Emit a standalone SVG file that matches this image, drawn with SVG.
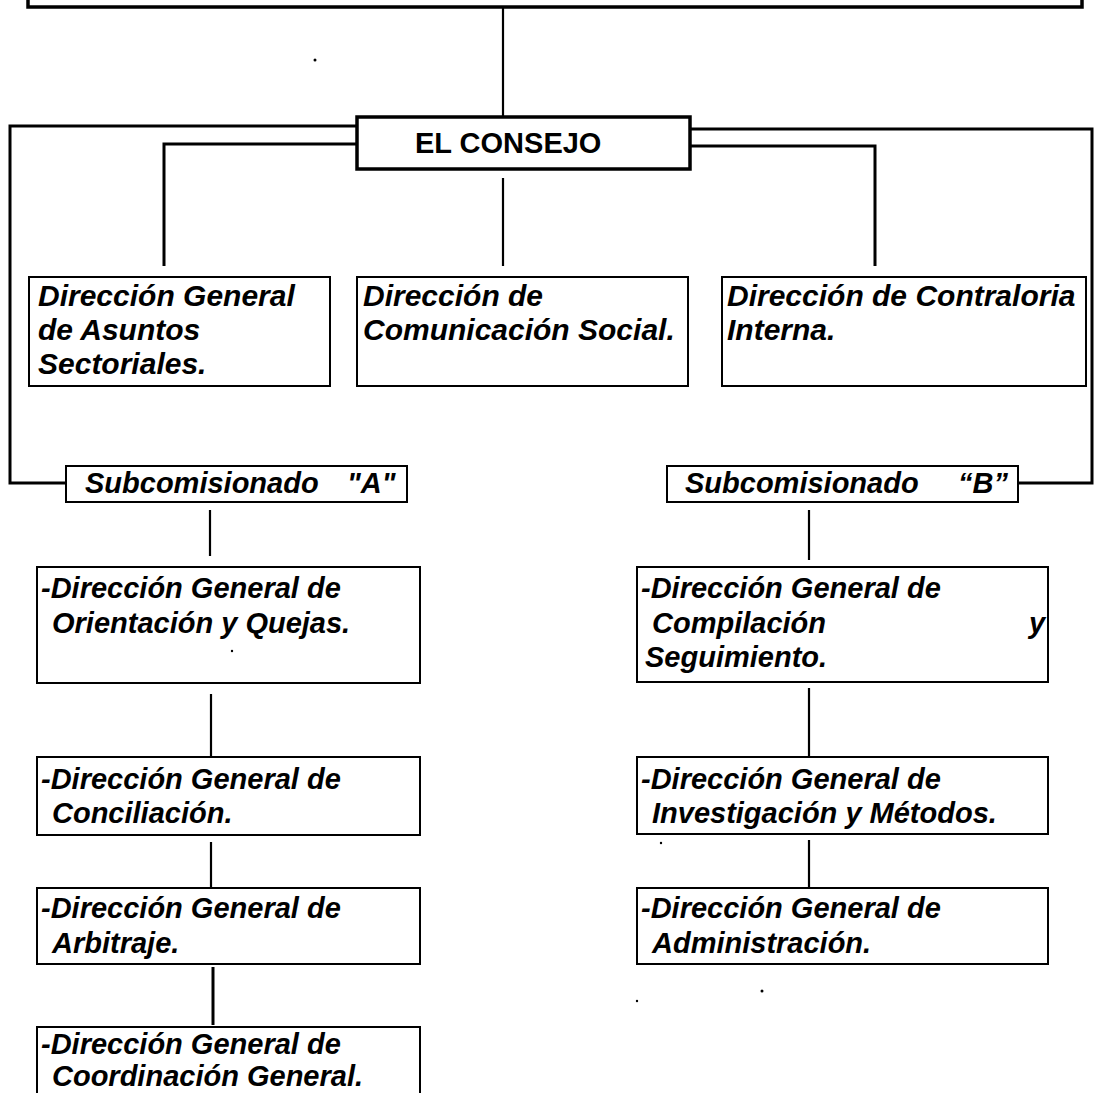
<svg xmlns="http://www.w3.org/2000/svg" width="1095" height="1093" viewBox="0 0 1095 1093">
<style>
.box{fill:#fff;stroke:#000;stroke-width:2}
.bold{stroke-width:3.5}
.t{font-family:"Liberation Sans",Arial,sans-serif;font-weight:bold;font-style:italic;font-size:29px;fill:#000}
.t30{font-size:30px}
.up{font-style:normal}
.c{fill:none;stroke:#000;stroke-width:3}
.c2{fill:none;stroke:#000;stroke-width:2.2}
</style>
<rect width="1095" height="1093" fill="#fff"/>
<g id="connectors">
<path class="c2" d="M503,7 V117"/>
<path class="c" d="M357,126 H10 V483 H66"/>
<path class="c" d="M357,144 H164 V266"/>
<path class="c2" d="M503,178 V266"/>
<path class="c" d="M690,129 H1092 V483 H1018"/>
<path class="c" d="M690,146 H875 V266"/>
<path class="c2" d="M210,510 V556"/>
<path class="c2" d="M211,694 V757"/>
<path class="c2" d="M211,842 V887"/>
<path class="c" d="M213,967 V1025"/>
<path class="c2" d="M809,510 V560"/>
<path class="c2" d="M809,688 V756"/>
<path class="c2" d="M809,840 V887"/>
</g>
<g id="top"><rect class="box bold" x="28" y="-40" width="1054" height="47"/></g>
<g id="consejo">
<rect class="box bold" x="357" y="117" width="333" height="52"/>
<text class="t up" x="415" y="153">EL CONSEJO</text>
</g>
<g id="asuntos">
<rect class="box" x="29" y="277" width="301" height="109"/>
<text class="t t30" x="38" y="306">Dirección General</text>
<text class="t t30" x="38" y="340">de Asuntos</text>
<text class="t t30" x="38" y="374">Sectoriales.</text>
</g>
<g id="comunicacion">
<rect class="box" x="357" y="277" width="331" height="109"/>
<text class="t t30" x="363" y="306">Dirección de</text>
<text class="t t30" x="363" y="340">Comunicación Social.</text>
</g>
<g id="contraloria">
<rect class="box" x="722" y="277" width="364" height="109"/>
<text class="t t30" x="727" y="306">Dirección de Contraloria</text>
<text class="t t30" x="727" y="340">Interna.</text>
</g>
<g id="subA">
<rect class="box" x="66" y="466" width="341" height="36"/>
<text class="t" x="85" y="493">Subcomisionado<tspan x="347">"A"</tspan></text>
</g>
<g id="subB">
<rect class="box" x="667" y="466" width="351" height="36"/>
<text class="t" x="685" y="493">Subcomisionado<tspan x="958">“B”</tspan></text>
</g>
<g id="a1">
<rect class="box" x="37" y="567" width="383" height="116"/>
<text class="t" x="41" y="598">-Dirección General de</text>
<text class="t" x="52" y="633">Orientación y Quejas.</text>
</g>
<g id="a2">
<rect class="box" x="37" y="757" width="383" height="78"/>
<text class="t" x="41" y="789">-Dirección General de</text>
<text class="t" x="52" y="823">Conciliación.</text>
</g>
<g id="a3">
<rect class="box" x="37" y="888" width="383" height="76"/>
<text class="t" x="41" y="918">-Dirección General de</text>
<text class="t" x="52" y="953">Arbitraje.</text>
</g>
<g id="a4">
<rect class="box" x="37" y="1027" width="383" height="100"/>
<text class="t" x="41" y="1054">-Dirección General de</text>
<text class="t" x="52" y="1086">Coordinación General.</text>
</g>
<g id="b1">
<rect class="box" x="637" y="567" width="411" height="115"/>
<text class="t" x="641" y="598">-Dirección General de</text>
<text class="t" x="652" y="633">Compilación<tspan x="1029">y</tspan></text>
<text class="t" x="645" y="667">Seguimiento.</text>
</g>
<g id="b2">
<rect class="box" x="637" y="757" width="411" height="77"/>
<text class="t" x="641" y="789">-Dirección General de</text>
<text class="t" x="652" y="823">Investigación y Métodos.</text>
</g>
<g id="b3">
<rect class="box" x="637" y="888" width="411" height="76"/>
<text class="t" x="641" y="918">-Dirección General de</text>
<text class="t" x="652" y="953">Administración.</text>
</g>
<g id="specks" fill="#000">
<circle cx="315" cy="60" r="1.5"/>
<circle cx="232" cy="651" r="1.2"/>
<circle cx="661" cy="843" r="1.2"/>
<circle cx="762" cy="991" r="1.5"/>
<circle cx="637" cy="1001" r="1.2"/>
</g>
</svg>
